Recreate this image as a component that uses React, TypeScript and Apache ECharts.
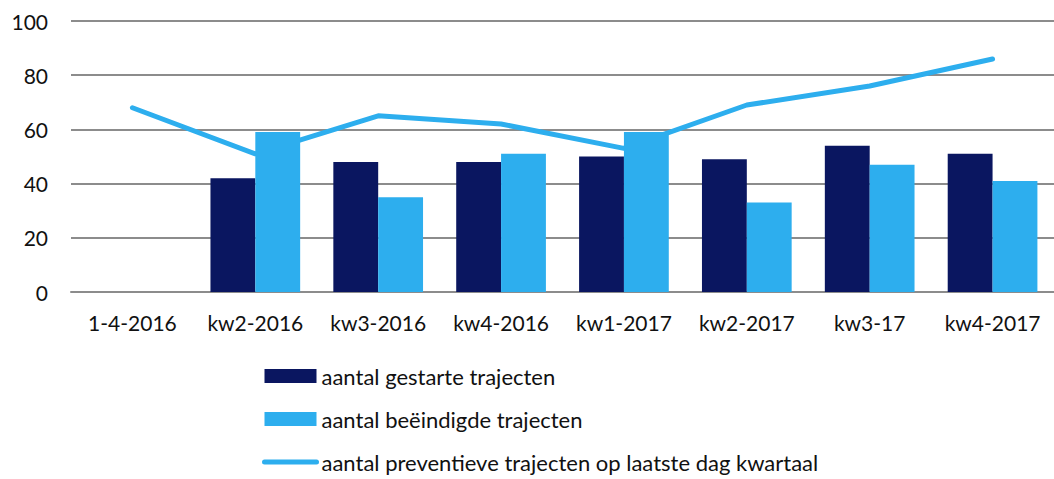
import React, { useEffect, useRef } from "react";
import * as echarts from "echarts";

const categories = ["1-4-2016", "kw2-2016", "kw3-2016", "kw4-2016", "kw1-2017", "kw2-2017", "kw3-17", "kw4-2017"];
const gestart = [null, 42, 48, 48, 50, 49, 54, 51];
const beeindigd = [null, 59, 35, 51, 59, 33, 47, 41];
const preventief = [68, 51, 65, 62, 53, 69, 76, 86];
const yTicks = { min: 0, max: 100, interval: 20 };

const DARK = "#0A1660";
const LIGHT = "#2DAEEE";
const FONT = "Lato";

export default function App() {
  const ref = useRef<HTMLDivElement>(null);
  useEffect(() => {
    const chart = echarts.init(ref.current!, null, { renderer: "svg" });
    chart.setOption({
      animation: false,
      textStyle: { fontFamily: FONT },
      grid: { left: 71, right: -1, top: 21, bottom: 187, containLabel: false },
      legend: {
        orient: "vertical",
        left: 257,
        top: 360,
        itemWidth: 52,
        itemHeight: 14,
        itemGap: 21,
        textStyle: { fontFamily: FONT, fontSize: 22, color: "#111", padding: [0, 0, 0, 0] },
        data: [
          { name: "aantal gestarte trajecten", icon: "rect" },
          { name: "aantal beëindigde trajecten", icon: "rect" },
          {
            name: "aantal preventieve trajecten op laatste dag kwartaal",
            itemStyle: { opacity: 0 },
            lineStyle: { width: 5, cap: "round", color: LIGHT },
          },
        ],
      },
      xAxis: {
        type: "category",
        data: categories,
        axisLine: { lineStyle: { color: "#8c8c8c", width: 2 } },
        axisTick: { show: false },
        axisLabel: { color: "#111", fontSize: 21, margin: 20, fontFamily: FONT, interval: 0 },
      },
      yAxis: {
        type: "value",
        ...yTicks,
        axisLine: { show: false },
        axisTick: { show: false },
        splitLine: { lineStyle: { color: "#8c8c8c", width: 2 } },
        axisLabel: { color: "#111", fontSize: 21, margin: 23, fontFamily: FONT },
      },
      series: [
        {
          name: "aantal gestarte trajecten",
          type: "bar",
          data: gestart,
          itemStyle: { color: DARK },
          barGap: "0%",
          barCategoryGap: "27%",
        },
        {
          name: "aantal beëindigde trajecten",
          type: "bar",
          data: beeindigd,
          itemStyle: { color: LIGHT },
        },
        {
          name: "aantal preventieve trajecten op laatste dag kwartaal",
          type: "line",
          data: preventief,
          symbol: "none",
          lineStyle: { color: LIGHT, width: 5, cap: "round" },
          itemStyle: { color: LIGHT },
          z: 1,
        },
      ],
    });
    return () => chart.dispose();
  }, []);
  return <div ref={ref} style={{ width: 1054, height: 479, position: "absolute", left: 0, top: 0 }} />;
}
